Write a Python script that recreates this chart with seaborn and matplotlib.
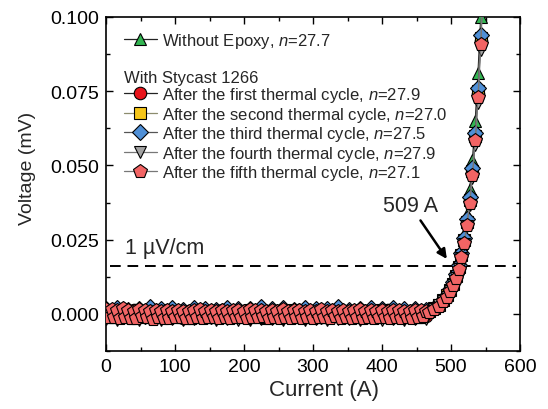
import numpy as np
import pandas as pd
import matplotlib
matplotlib.use("Agg")
import matplotlib.pyplot as plt
import seaborn as sns
from matplotlib.lines import Line2D
from matplotlib.ticker import MultipleLocator, FormatStrFormatter

sns.set_theme(style="ticks")
plt.rcParams['font.family'] = ['Liberation Sans', 'DejaVu Sans']
plt.rcParams['mathtext.fontset'] = 'custom'
plt.rcParams['mathtext.it'] = 'Liberation Sans:italic'
plt.rcParams['mathtext.rm'] = 'Liberation Sans'

# ---------------- data ----------------
# currents (A) of the flat part (runs without epoxy and cycles 1-4)
I_flat = [0, 8, 16, 24, 32, 40, 48, 56, 64, 72, 80, 88, 96, 104, 112, 120, 128, 136,
          144, 152, 160, 168, 176, 184, 192, 200, 208, 216, 224, 232, 240, 248, 256,
          264, 272, 280, 288, 296, 304, 312, 320, 328, 336, 344, 352, 360, 368, 376,
          384, 392, 400, 408, 416, 424, 432, 440, 448, 456, 464]
# currents (A) of the flat part for the fifth cycle (denser sampling)
I_flat5 = [0, 4, 8, 12, 16, 20, 24, 28, 32, 36,
           40, 44, 48, 52, 56, 60, 64, 68, 72, 76,
           80, 84, 88, 92, 96, 100, 104, 108, 112, 116,
           120, 124, 128, 132, 136, 140, 144, 148, 152, 156,
           160, 164, 168, 172, 176, 180, 184, 188, 192, 196,
           200, 204, 208, 212, 216, 220, 224, 228, 232, 236,
           240, 244, 248, 252, 256, 260, 264, 268, 272, 276,
           280, 284, 288, 292, 296, 300, 304, 308, 312, 316,
           320, 324, 328, 332, 336, 340, 344, 348, 352, 356,
           360, 364, 368, 372, 376, 380, 384, 388, 392, 396,
           400, 404, 408, 412, 416, 420, 424, 428, 432, 436,
           440, 444, 448, 452, 456, 460, 464]
# currents (A) of the transition part
I_rise = [468, 476, 483, 489, 494, 499, 503, 507, 511, 515, 519, 523, 527, 531, 535,
          539, 543, 547]

# flat-part voltages in microvolts
flat_noepoxy = [0.8, -1.0, 1.2, -0.6, 0.5, -1.3, 1.0, -0.8, 0.7, -1.1,
                1.3, -0.5, 0.6, -1.2, 0.9, -0.7, 1.1, -1.0, 0.4, -0.9,
                1.0, -1.2, 0.8, -0.6, 1.2, -1.1, 0.5, -0.8, 0.9, -1.3,
                0.7, -0.9, 1.1, -0.5, 0.8, -1.2, 1.0, -0.7, 0.6, -1.0,
                1.2, -0.8, 0.9, -1.1, 0.5, -0.9, 1.0, -1.2, 0.7, -0.6,
                1.1, -1.0, 0.8, -0.7, 1.3, -1.1, 0.6, -0.9, 1.0]
flat_c1 = [-0.6, 1.0, -1.1, 0.7, -0.9, 1.2, -0.5, 0.8, -1.2, 0.6,
           -0.8, 1.1, -1.0, 0.5, -1.3, 0.9, -0.7, 1.0, -1.1, 0.8,
           -0.6, 1.2, -0.9, 0.7, -1.0, 1.1, -0.8, 0.5, -1.2, 0.9,
           -0.7, 1.0, -1.1, 0.6, -0.9, 1.3, -0.5, 0.8, -1.0, 0.7,
           -1.2, 0.9, -0.6, 1.1, -0.8, 0.5, -1.1, 1.0, -0.7, 0.8,
           -0.9, 1.2, -1.0, 0.6, -0.8, 1.1, -1.2, 0.7, -0.6]
flat_c2 = [0.5, -0.9, 1.0, -1.2, 0.8, -0.6, 1.1, -1.0, 0.6, -0.8,
           1.2, -1.1, 0.7, -0.5, 0.9, -1.3, 1.0, -0.7, 0.5, -1.0,
           1.1, -0.8, 0.6, -1.2, 0.9, -0.6, 1.3, -1.0, 0.7, -0.9,
           1.0, -1.1, 0.5, -0.7, 1.2, -0.8, 0.8, -1.2, 0.6, -1.0,
           0.9, -0.5, 1.1, -1.1, 0.7, -0.8, 1.0, -0.9, 0.6, -1.2,
           1.2, -0.7, 0.8, -1.0, 0.5, -0.9, 1.1, -1.1, 0.7]
flat_c3 = [1.6, -0.4, 2.0, -0.7, 1.4, -0.3, 1.8, -0.6, 2.2, -0.5,
           1.5, -0.8, 1.9, -0.2, 1.3, -0.6, 2.1, -0.4, 1.7, -0.7,
           1.4, -0.3, 2.0, -0.5, 1.6, -0.8, 1.8, -0.4, 2.3, -0.6,
           1.5, -0.2, 1.9, -0.7, 1.3, -0.5, 2.1, -0.3, 1.6, -0.6,
           1.8, -0.4, 2.2, -0.7, 1.4, -0.5, 1.7, -0.3, 2.0, -0.6,
           1.5, -0.4, 1.9, -0.8, 1.6, -0.2, 1.8, -0.5, 1.4]
flat_c4 = [-1.8, 0.3, -2.0, 0.5, -1.5, 0.2, -2.1, 0.6, -1.7, 0.4,
           -1.9, 0.1, -1.6, 0.5, -2.2, 0.3, -1.8, 0.6, -1.5, 0.2,
           -2.0, 0.4, -1.7, 0.1, -1.9, 0.5, -2.1, 0.3, -1.6, 0.6,
           -1.8, 0.2, -2.0, 0.4, -1.5, 0.1, -1.9, 0.5, -1.7, 0.3,
           -2.2, 0.6, -1.6, 0.2, -1.8, 0.4, -2.0, 0.1, -1.5, 0.5,
           -1.9, 0.3, -1.7, 0.6, -2.1, 0.2, -1.8, 0.4, -1.6]
flat_c5 = [1.5, -1.2, 1.8, -0.9, 1.2, -1.4, 1.9, -1.0, 1.4, -1.3,
           1.1, -1.5, 1.6, -0.8, 1.3, -1.2, 1.0, -1.6, 1.2, -1.1,
           0.9, -1.4, 1.3, -1.5, 1.0, -1.2, 1.4, -1.0, 1.1, -1.3,
           0.9, -1.5, 1.2, -1.1, 1.5, -1.4, 1.0, -1.2, 1.3, -0.9,
           1.1, -1.3, 1.4, -1.1, 0.9, -1.5, 1.2, -1.0, 1.3, -1.2,
           1.0, -1.4, 1.5, -1.1, 1.2, -1.0, 1.4, -0.8, 1.1, -1.3,
           1.3, -1.1, 0.9, -1.5, 1.6, -1.2, 1.0, -1.4, 1.2, -0.9,
           1.4, -1.3, 1.1, -1.0, 1.2, -1.5, 0.9, -1.2, 1.5, -1.1,
           1.0, -1.4, 1.3, -0.8, 1.1, -1.3, 1.4, -1.2, 0.9, -1.5,
           1.2, -1.0, 1.5, -1.3, 1.0, -1.1, 1.3, -1.4, 1.1, -0.9,
           1.3, -1.2, 1.0, -1.5, 1.4, -1.0, 1.2, -1.3, 0.9, -1.1,
           1.1, -1.4, 1.3, -1.0, 1.2, -0.8, 1.0]

# transition-part voltages in mV
rise_noepoxy = [.0012, .0022, .0035, .0050, .0068, .0090, .0112, .0140, .0172, .0215,
                .0270, .0335, .0420, .0520, .0650, .0810, .1000, .1250]
rise_c1 = [.0010, .0018, .0030, .0044, .0060, .0080, .0100, .0125, .0155, .0195,
           .0245, .0305, .0380, .0475, .0590, .0740, .0920, .1150]
rise_c2 = [.0010, .0019, .0031, .0046, .0062, .0082, .0102, .0128, .0158, .0198,
           .0248, .0310, .0385, .0480, .0600, .0750, .0930, .1160]
rise_c3 = [.0011, .0020, .0032, .0047, .0064, .0085, .0106, .0133, .0164, .0205,
           .0256, .0318, .0395, .0490, .0610, .0760, .0940, .1170]
rise_c4 = [.0009, .0017, .0029, .0043, .0058, .0077, .0097, .0121, .0150, .0188,
           .0236, .0295, .0368, .0458, .0570, .0710, .0890, .1110]
rise_c5 = [.0008, .0016, .0028, .0042, .0057, .0076, .0096, .0120, .0150, .0190,
           .0240, .0300, .0375, .0468, .0585, .0730, .0910, .1140]

labels = ["Without Epoxy, $n$=27.7",
          "After the first thermal cycle, $n$=27.9",
          "After the second thermal cycle, $n$=27.0",
          "After the third thermal cycle, $n$=27.5",
          "After the fourth thermal cycle, $n$=27.9",
          "After the fifth thermal cycle, $n$=27.1"]
flat_currents = [I_flat, I_flat, I_flat, I_flat, I_flat, I_flat5]
flats = [flat_noepoxy, flat_c1, flat_c2, flat_c3, flat_c4, flat_c5]
rises = [rise_noepoxy, rise_c1, rise_c2, rise_c3, rise_c4, rise_c5]

threshold = 0.0162  # 1 uV/cm criterion (mV)
ic_label = "509 A"

# ---------------- styles ----------------
markers = ['^', 'o', 's', 'D', 'v', 'p']
faces = ['#33b552', '#e8141b', '#f5c518', '#4f8fd6', '#a3a3a3', '#f26464']
lines = ['#222222', '#222222', '#8c8c6e', '#555555', '#777777', '#777777']
msizes = [9, 9, 8.5, 8, 9, 10]

fig = plt.figure(figsize=(5.48, 4.10), dpi=100)
ax = fig.add_axes([106 / 548, 1 - 352 / 410, 414 / 548, 334 / 410])

for lab, fi, fl, ri, m, fc, lc, ms in zip(labels, flat_currents, flats, rises,
                                          markers, faces, lines, msizes):
    df = pd.DataFrame({
        "current": list(fi) + list(I_rise),
        "voltage": [v / 1000.0 for v in fl] + list(ri),
    })
    sns.lineplot(data=df, x="current", y="voltage", ax=ax, estimator=None, sort=False,
                 color=lc, lw=0.8, marker=m, markersize=ms, markerfacecolor=fc,
                 markeredgecolor='black', markeredgewidth=0.8, legend=False, zorder=3)

ax.axhline(threshold, xmin=0.01, xmax=0.99, color='black', lw=1.4,
           dashes=(5.5, 3.5), zorder=2)

ax.set_xlim(0, 600)
ax.set_ylim(-0.0125, 0.100)
ax.xaxis.set_major_locator(MultipleLocator(100))
ax.xaxis.set_minor_locator(MultipleLocator(50))
ax.yaxis.set_major_locator(MultipleLocator(0.025))
ax.yaxis.set_minor_locator(MultipleLocator(0.0125))
ax.yaxis.set_major_formatter(FormatStrFormatter('%.3f'))
ax.tick_params(which='both', direction='in', top=True, right=True, width=1.0,
               labelsize=14, colors='black')
ax.tick_params(which='major', length=5, pad=5)
ax.tick_params(which='minor', length=3)
for s in ax.spines.values():
    s.set_linewidth(1.2)
    s.set_color('black')

ax.set_xlabel("Current (A)", fontsize=16, labelpad=1)
ax.xaxis.set_label_coords(0.527, -0.085)
ax.set_ylabel("Voltage (mV)", fontsize=14)
ax.yaxis.set_label_coords(-0.17, 0.55)

ax.text(28, threshold + 0.0025, "1 \u00b5V/cm", fontsize=15.5, ha='left', va='bottom')
ax.annotate(ic_label, xy=(494, 0.0185), xytext=(441, 0.0365),
            fontsize=15.5, ha='center', va='center',
            arrowprops=dict(arrowstyle='-|>', color='black', lw=1.8,
                            mutation_scale=14, shrinkA=1, shrinkB=0))

# legends
handles = [Line2D([], [], color=lc, lw=0.9, marker=m, markersize=ms, markerfacecolor=fc,
                  markeredgecolor='black', markeredgewidth=0.8)
           for m, fc, lc, ms in zip(markers, faces, lines, msizes)]
leg1 = ax.legend(handles[:1], labels[:1], loc='upper left', bbox_to_anchor=(0.043, 0.959),
                 frameon=False, fontsize=12, borderpad=0, borderaxespad=0,
                 handlelength=2.0, handletextpad=0.3)
ax.add_artist(leg1)
leg2 = ax.legend(handles[1:], labels[1:], loc='upper left', bbox_to_anchor=(0.043, 0.842),
                 frameon=False, fontsize=12, title="With Stycast 1266", title_fontsize=12,
                 borderpad=0, borderaxespad=0, handlelength=2.0, handletextpad=0.3,
                 labelspacing=0.03)
leg2._legend_box.align = "left"

fig.savefig("out.png", dpi=100)
